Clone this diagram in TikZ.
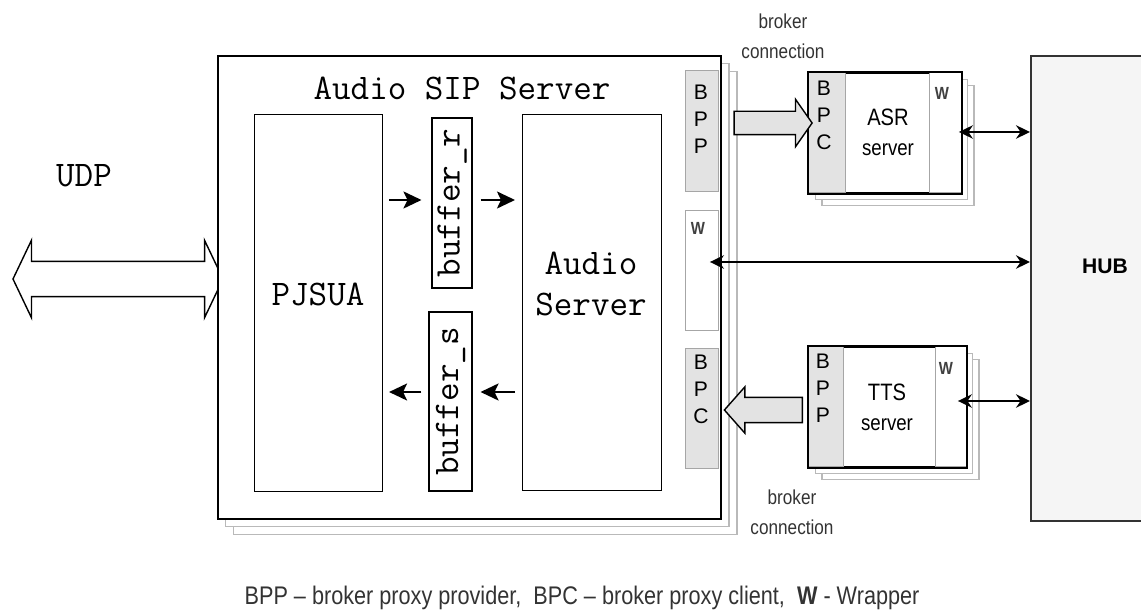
\documentclass[tikz,border=0pt]{standalone}
\usepackage{fontspec}
\setmainfont{Liberation Sans}
\newfontfamily\narrowsf[FakeStretch=0.85]{Liberation Sans}
\usetikzlibrary{positioning, arrows.meta, shapes.arrows, shadows, calc}

\newcommand{\pxu}{0.02cm}
\tikzset{
  box/.style={draw, line width=0.6pt, fill=white, inner sep=0pt, anchor=north west},
  sized/.style 2 args={minimum width=#1*\pxu, minimum height=#2*\pxu},
  mono/.style={font=\ttfamily\fontsize{20.5}{23.5}\selectfont},
  strip/.style={draw=gray!70, fill=gray!22, inner sep=0pt, line width=0.6pt},
  wstrip/.style={draw=gray!70, fill=white, inner sep=0pt, line width=0.6pt},
  stack/.style={copy shadow={shadow xshift=2*#1, shadow yshift=-2*#1, opacity=1, fill=white, draw=gray!55, line width=0.6pt},
                copy shadow={shadow xshift=#1, shadow yshift=-#1, opacity=1, fill=white, draw=gray!55, line width=0.6pt}},
  letters/.style={font=\fontsize{12}{15.4}\selectfont, align=center},
  tag/.style={font=\narrowsf\fontsize{11.5}{17}\selectfont, align=center, text=black!80},
  small arrow/.style={-{Stealth[length=0.36cm, width=0.34cm, inset=0.08cm]}, line width=1.2pt},
  hub arrow/.style={{Stealth[length=0.28cm, width=0.27cm]}-{Stealth[length=0.28cm, width=0.27cm]}, line width=1pt},
  fat arrow/.style={single arrow, draw, fill=gray!22, line width=0.8pt, inner sep=0pt, text height=#1, text depth=0pt, single arrow head indent=0pt},
}

\begin{document}
\begin{tikzpicture}[x=0.02cm, y=-0.02cm]
  \useasboundingbox (0,0) rectangle (1141,614);

  % UDP side
  \node[double arrow, draw, fill=white, line width=0.8pt, inner sep=0pt, text height=0.68cm, text depth=0pt,
        minimum height=210*\pxu, double arrow head extend=0.42cm, double arrow tip angle=129,
        double arrow head indent=0pt] (udp) at (118,279) {};
  \node[mono] (udplabel) at (84,176) {UDP};

  % Audio SIP Server
  \node[box, sized={503}{463}, line width=1.1pt, stack=0.16cm] (sip) at (217,55) {};
  \node[mono] (siptitle) at (462,88) {Audio SIP Server};

  \node[box, sized={128}{377}] (pjsua) at (254,114) {};
  \node[mono] (pjsualabel) at (318,294) {PJSUA};
  \node[box, sized={139}{376}] (aserv) at (522,114) {};
  \node[mono, align=center] (aservlabel) at (591,284) {Audio\\Server};

  \node[draw, line width=0.6pt, mono, rotate=90, inner sep=0pt, sized={170}{40}] (bufr) at (452,203) {buffer\_r};
  \node[draw, line width=0.6pt, mono, rotate=90, inner sep=0pt, sized={179}{43}] (bufs) at (450.5,401.5) {buffer\_s};

  \draw[small arrow, shorten <=6*\pxu, shorten >=10*\pxu] (pjsua.east |- 0,200) -- (bufr.north |- 0,200);
  \draw[small arrow, shorten <=8*\pxu, shorten >=7*\pxu] (bufr.south |- 0,200) -- (aserv.west |- 0,200);
  \draw[small arrow, shorten <=7*\pxu, shorten >=8*\pxu] (aserv.west |- 0,392) -- (bufs.south |- 0,392);
  \draw[small arrow, shorten <=7*\pxu, shorten >=6*\pxu] (bufs.north |- 0,392) -- (pjsua.east |- 0,392);

  % proxies of the SIP server
  \node[strip, anchor=north west, sized={33}{121}] (bpp) at (685,70) {};
  \node[letters] (bpplabel) at (701,119) {B\\P\\P};
  \node[wstrip, anchor=north west, sized={33}{120}] (wmid) at (685,210) {};
  \node[font=\narrowsf\bfseries\fontsize{10}{12}\selectfont, text=black!75] (wmidlabel) at (698,228) {W};
  \node[strip, anchor=north west, sized={33}{120}] (bpc) at (685,348) {};
  \node[letters] (bpclabel) at (701,389) {B\\P\\C};

  % ASR server
  \node[box, sized={152}{120}, line width=1.1pt, stack=0.13cm] (asr) at (808,72) {};
  \node[strip, anchor=north west, sized={37}{120}] (asrbpc) at (asr.north west) {};
  \node[wstrip, anchor=north east, sized={32}{120}] (asrw) at (asr.north east) {};
  \draw[line width=1.1pt] (asr.north west) rectangle (asr.south east);
  \node[letters] (asrbpclabel) at (824,115) {B\\P\\C};
  \node[font=\narrowsf\fontsize{13.5}{16}\selectfont] (asrlabel) at (888,117) {ASR};
  \node[font=\narrowsf\fontsize{12.5}{15}\selectfont] (asrserver) at (888,150) {server};
  \node[font=\narrowsf\bfseries\fontsize{10}{12}\selectfont, text=black!75] (asrwlabel) at (942,93) {W};

  % TTS server
  \node[box, sized={157}{120}, line width=1.1pt, stack=0.13cm] (tts) at (808,346) {};
  \node[strip, anchor=north west, sized={35}{120}] (ttsbpp) at (tts.north west) {};
  \node[wstrip, anchor=north east, sized={31}{120}] (ttsw) at (tts.north east) {};
  \draw[line width=1.1pt] (tts.north west) rectangle (tts.south east);
  \node[letters] (ttsbpplabel) at (823,388) {B\\P\\P};
  \node[font=\narrowsf\fontsize{13.5}{16}\selectfont] (ttslabel) at (887,392) {TTS};
  \node[font=\narrowsf\fontsize{12.5}{15}\selectfont] (ttsserver) at (887,425) {server};
  \node[font=\narrowsf\bfseries\fontsize{10}{12}\selectfont, text=black!75] (ttswlabel) at (946,368) {W};

  % broker connections
  \node[fat arrow=0.44cm, minimum height=78*\pxu, single arrow head extend=0.24cm, single arrow tip angle=110] (brokup) at (769,123) {};
  \node[fat arrow=0.48cm, minimum height=78*\pxu, single arrow head extend=0.21cm, single arrow tip angle=97, shape border rotate=180] (brokdown) at (769,410) {};
  \node[tag] (tagup) at (783,36) {broker\\connection};
  \node[tag] (tagdown) at (792,512) {broker\\connection};

  % HUB
  \node[box, fill=black!4, draw=black!80, line width=1pt, sized={130}{465}] (hub) at (1030,55) {};
  \node[font=\bfseries\fontsize{12}{14}\selectfont] (hublabel) at (1105,266) {HUB};

  \draw[hub arrow, shorten <=-3*\pxu] (asr.east |- 0,132) -- (hub.west |- 0,132);
  \draw[hub arrow, shorten <=-12*\pxu] (sip.east |- 0,262) -- (hub.west |- 0,262);
  \draw[hub arrow, shorten <=-9*\pxu] (tts.east |- 0,401) -- (hub.west |- 0,401);

  % legend
  \node[font=\narrowsf\fontsize{14.5}{16}\selectfont, text=black!80] (legend) at (582,598)
    {BPP – broker proxy provider,\ \ BPC – broker proxy client,\ \ {\bfseries W} - Wrapper};
\end{tikzpicture}
\end{document}
